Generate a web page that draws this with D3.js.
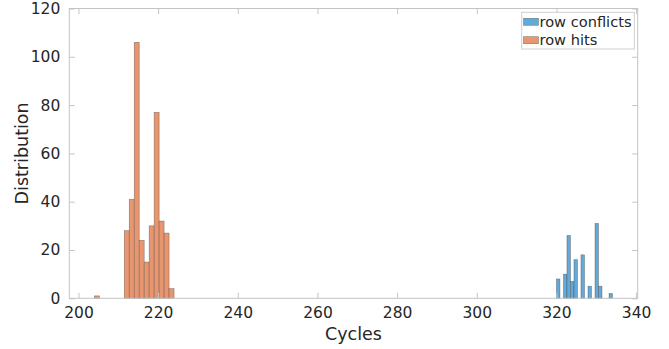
<!DOCTYPE html>
<html>
<head>
<meta charset="utf-8">
<script src="https://cdn.jsdelivr.net/npm/d3@7"></script>
<style>
  html, body { margin: 0; padding: 0; background: #fff; }
  svg { display: block; font-family: "DejaVu Sans", sans-serif; }
</style>
</head>
<body>
<svg id="chart" width="669" height="349"></svg>
<script>
// ---- data ----
const hitsBinLeft = [204, 211.5, 212.75, 214, 215.25, 216.5, 217.75, 219, 220.25, 221.5, 222.75];
const hitsCounts  = [1, 28, 41, 106, 24, 15, 30, 77, 32, 27, 4];
const hitsBinWidth = 1.25;

const conflictsBinLeft = [320, 321.76, 322.64, 323.52, 324.4, 326.16, 327.92, 329.68, 330.56, 333.2];
const conflictsCounts  = [8, 10, 26, 7, 16, 18, 5, 31, 5, 2];
const conflictsBinWidth = 0.88;

const xTicks = [200, 220, 240, 260, 280, 300, 320, 340];
const yTicks = [0, 20, 40, 60, 80, 100, 120];
const seriesNames = ["row conflicts", "row hits"];
const xLabel = "Cycles";
const yLabel = "Distribution";

// ---- layout ----
const svg = d3.select("#chart");
const L = 69.3, R = 637.7, T = 8.5, B = 298.3;
const x = d3.scaleLinear().domain([197.7, 340.4]).range([L, R]);
const y = d3.scaleLinear().domain([0, 120]).range([B, T]);

const colBlue = "#65a9d9", colOrange = "#e8966f";
const edgeCol = "rgba(60,60,60,0.55)";
const axisCol = "#c4c4c4";
const textCol = "#262626";
const tickLen = 5.5;

// bars
function drawBars(lefts, counts, w, fill) {
  const data = lefts.map((l, i) => ({ l, c: counts[i] }));
  svg.append("g").selectAll("rect").data(data).join("rect")
    .attr("x", d => x(d.l))
    .attr("width", d => x(d.l + w) - x(d.l))
    .attr("y", d => y(d.c))
    .attr("height", d => y(0) - y(d.c))
    .attr("fill", fill)
    .attr("stroke", edgeCol)
    .attr("stroke-width", 0.6);
}
drawBars(hitsBinLeft, hitsCounts, hitsBinWidth, colOrange);
drawBars(conflictsBinLeft, conflictsCounts, conflictsBinWidth, colBlue);

// axes (box with inward ticks on all sides)
const xAxisB = d3.axisBottom(x).tickValues(xTicks).tickSizeInner(-tickLen).tickSizeOuter(0).tickPadding(9);
const xAxisT = d3.axisTop(x).tickValues(xTicks).tickSizeInner(-tickLen).tickSizeOuter(0).tickFormat("");
const yAxisL = d3.axisLeft(y).tickValues(yTicks).tickSizeInner(-tickLen).tickSizeOuter(0).tickPadding(9);
const yAxisR = d3.axisRight(y).tickValues(yTicks).tickSizeInner(-tickLen).tickSizeOuter(0).tickFormat("");

function styleAxis(g) {
  g.select(".domain").remove();
  g.selectAll(".tick line").attr("stroke", axisCol).attr("stroke-width", 1);
  g.selectAll(".tick text").attr("fill", textCol).attr("font-size", "15.5px").attr("font-family", "DejaVu Sans, sans-serif");
}
svg.append("g").attr("transform", `translate(0,${B})`).call(xAxisB).call(styleAxis);
svg.append("g").attr("transform", `translate(0,${T})`).call(xAxisT).call(styleAxis);
svg.append("g").attr("transform", `translate(${L},0)`).call(yAxisL).call(styleAxis);
svg.append("g").attr("transform", `translate(${R},0)`).call(yAxisR).call(styleAxis);

// box
svg.append("rect").attr("x", L).attr("y", T).attr("width", R - L).attr("height", B - T)
  .attr("fill", "none").attr("stroke", axisCol).attr("stroke-width", 1);

// axis labels
svg.append("text").attr("x", (L + R) / 2).attr("y", 339.5).attr("text-anchor", "middle")
  .attr("font-size", "17.5px").attr("fill", textCol).text(xLabel);
svg.append("text").attr("transform", `translate(28,${(T + B) / 2}) rotate(-90)`).attr("text-anchor", "middle")
  .attr("font-size", "17.5px").attr("fill", textCol).text(yLabel);

// legend
const lg = svg.append("g");
lg.append("rect").attr("x", 521.7).attr("y", 12.3).attr("width", 112.6).attr("height", 36.7)
  .attr("fill", "#fff").attr("stroke", "#cfcfcf").attr("stroke-width", 1);
const legendCols = [colBlue, colOrange];
seriesNames.forEach((name, i) => {
  const yy = 18.3 + i * 18.4;
  lg.append("rect").attr("x", 523.5).attr("y", yy).attr("width", 15).attr("height", 7)
    .attr("fill", legendCols[i]).attr("stroke", edgeCol).attr("stroke-width", 0.6);
  lg.append("text").attr("x", 539.5).attr("y", yy + 8.5).attr("font-size", "14.6px")
    .attr("fill", textCol).text(name);
});
</script>
</body>
</html>
